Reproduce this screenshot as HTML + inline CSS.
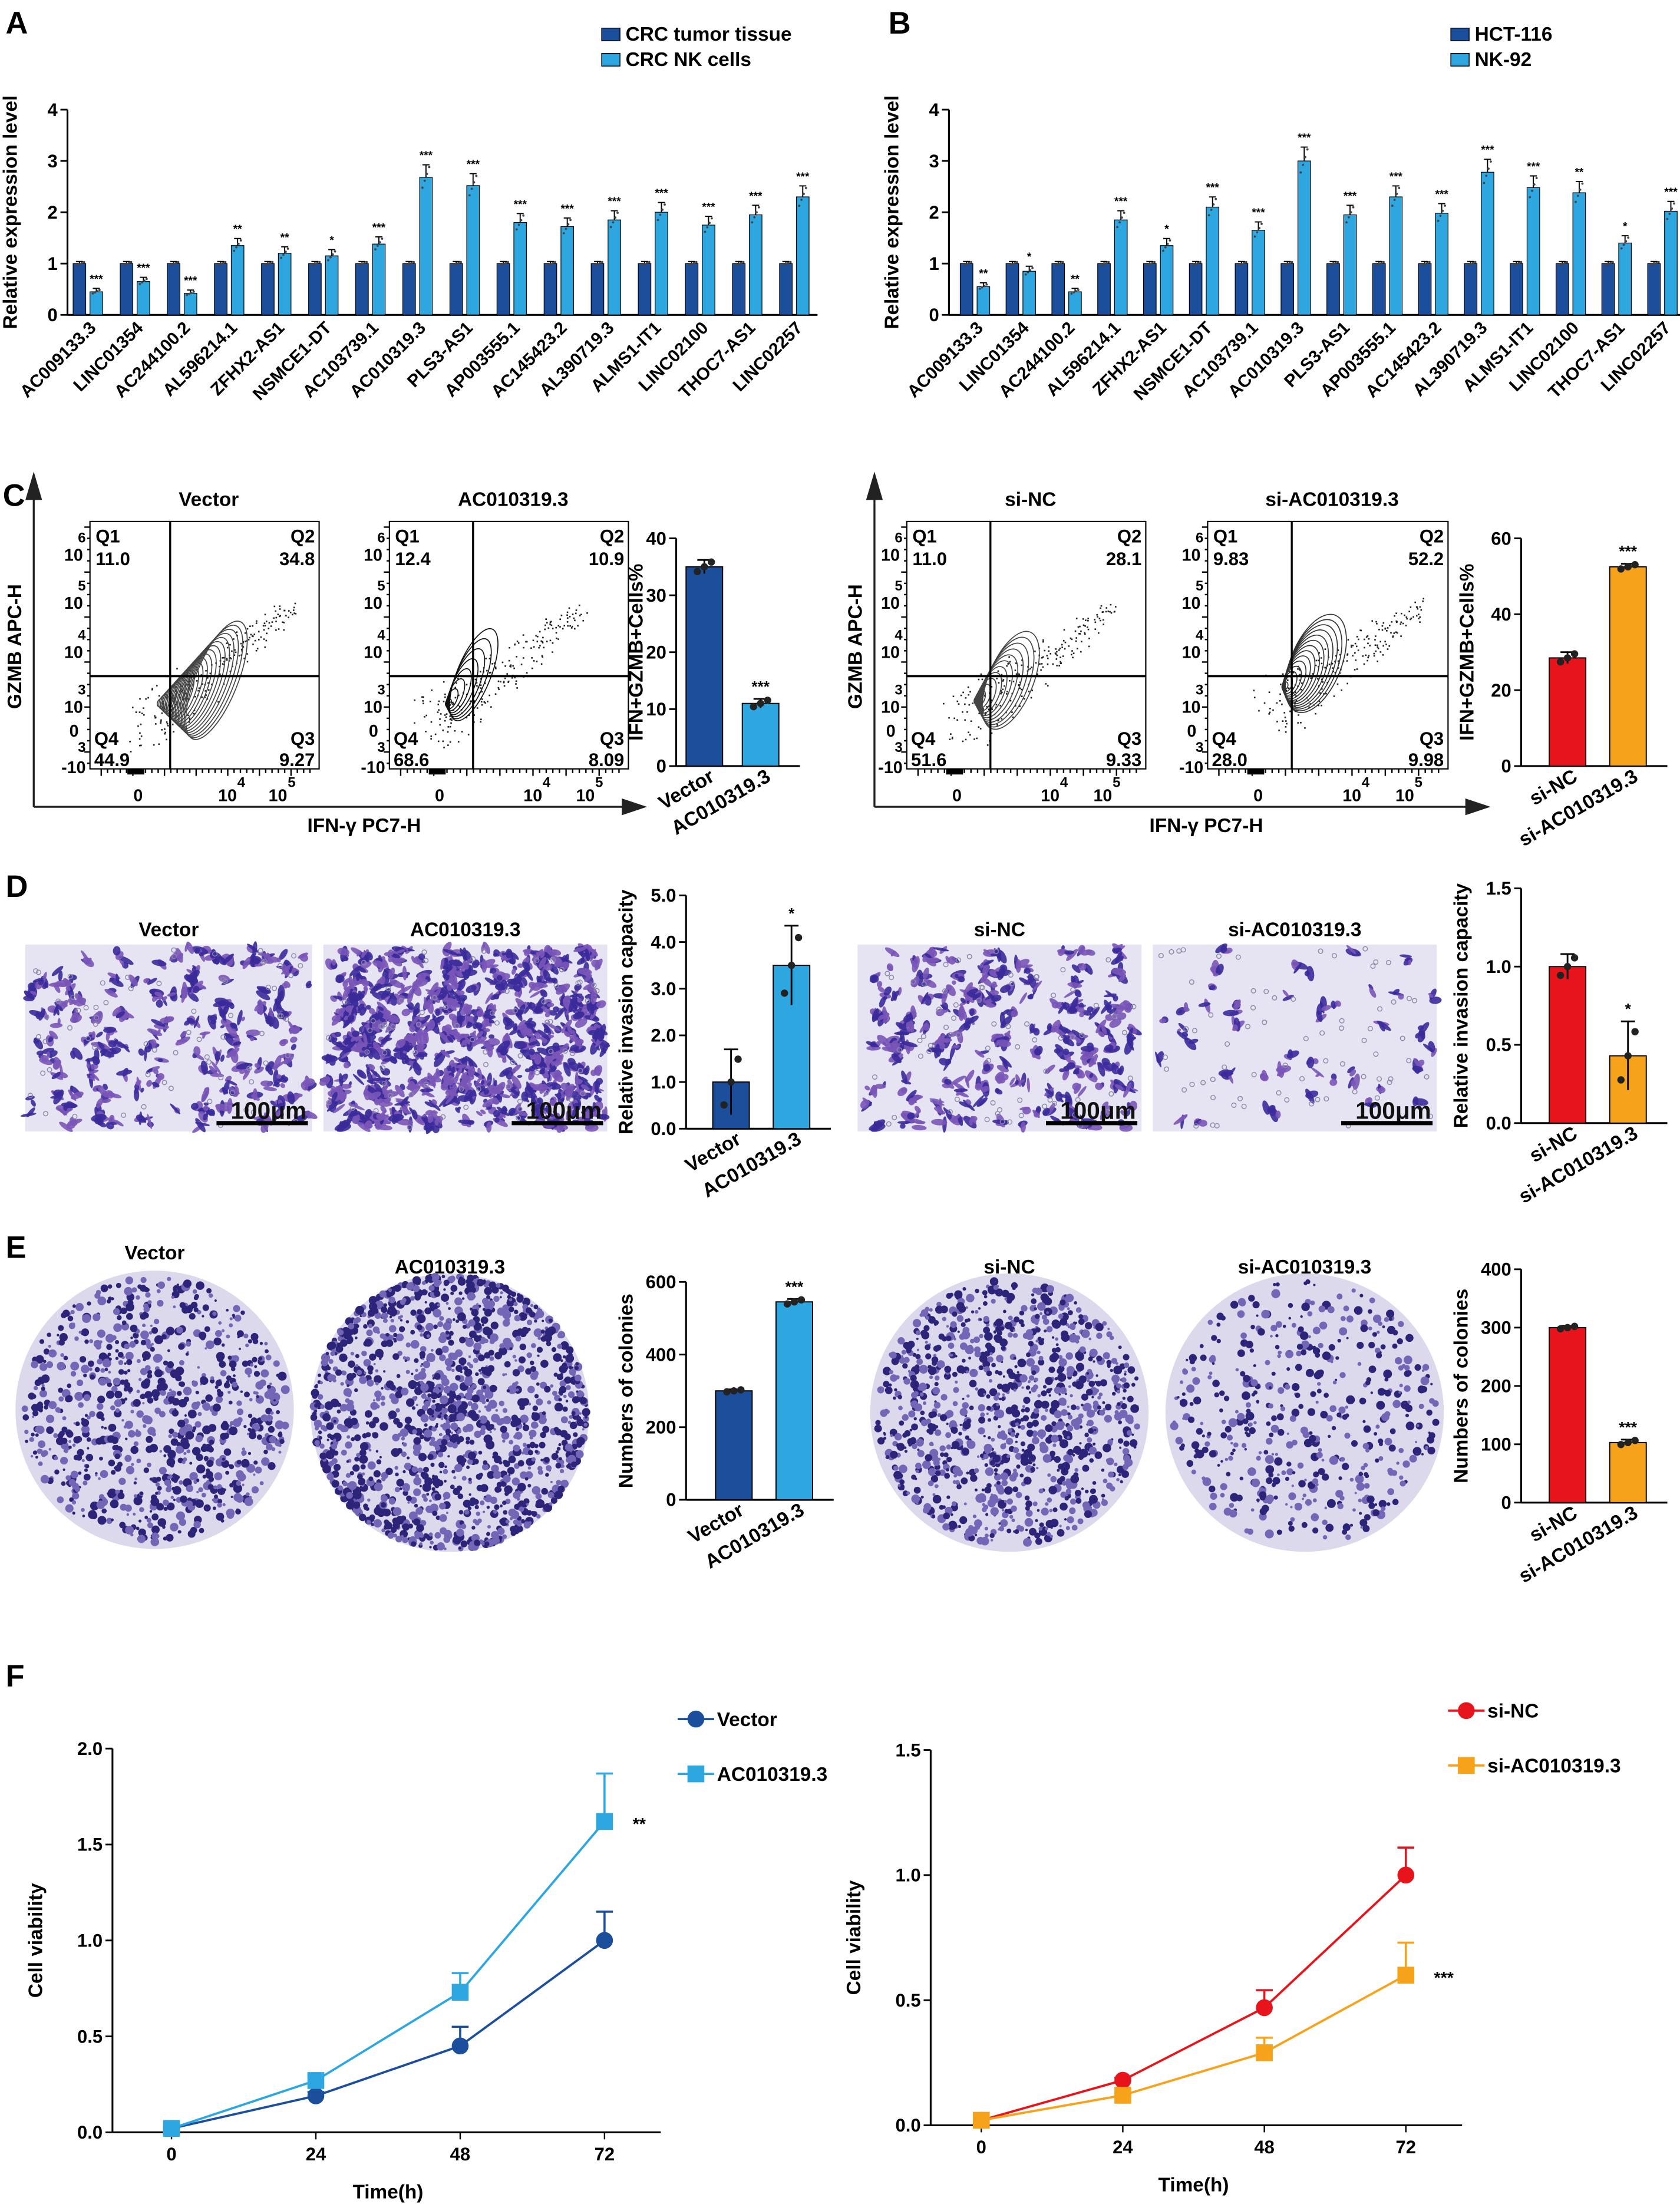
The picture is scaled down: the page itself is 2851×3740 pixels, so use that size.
<!DOCTYPE html>
<html><head><meta charset="utf-8"><style>
html,body{margin:0;padding:0;background:#fff}
svg{display:block;font-family:"Liberation Sans",Arial,sans-serif}
</style></head><body>
<svg id="fig" xmlns="http://www.w3.org/2000/svg" width="2851" height="3740" viewBox="0 0 1195 1568" preserveAspectRatio="none">
<rect x="0" y="0" width="1195" height="1568" fill="#fff"/>
<g font-weight="bold" font-size="22" fill="#000">
<text x="4" y="24">A</text>
<text x="632" y="24">B</text>
<text x="2" y="360">C</text>
<text x="4" y="638">D</text>
<text x="4" y="895">E</text>
<text x="4" y="1200">F</text>
</g>
</svg>
<script>
const NS='http://www.w3.org/2000/svg';
const svg=document.getElementById('fig');
const DARK='#1b4f9c', LIGHT='#2ea7e0', RED='#e8141b', ORANGE='#f7a21b';

// ===== Data =====
const genes=['AC009133.3','LINC01354','AC244100.2','AL596214.1','ZFHX2-AS1','NSMCE1-DT','AC103739.1','AC010319.3','PLS3-AS1','AP003555.1','AC145423.2','AL390719.3','ALMS1-IT1','LINC02100','THOC7-AS1','LINC02257'];
const aDark=[1,1,1,1,1,1,1,1,1,1,1,1,1,1,1,1];
const aLight=[0.45,0.65,0.42,1.35,1.2,1.15,1.38,2.68,2.52,1.8,1.72,1.85,2.0,1.75,1.95,2.3];
const aStars=['***','***','***','**','**','*','***','***','***','***','***','***','***','***','***','***'];
const bDark=[1,1,1,1,1,1,1,1,1,1,1,1,1,1,1,1];
const bLight=[0.55,0.85,0.45,1.85,1.35,2.1,1.65,3.0,1.95,2.3,1.98,2.78,2.48,2.38,1.4,2.02];
const bStars=['**','*','**','***','*','***','***','***','***','***','***','***','***','**','*','***'];
const exprTicks=[0,1,2,3,4];

const cCats1=['Vector','AC010319.3'], cVals1=[35,11], cErr1=[1.2,0.8], cTicks1=[0,10,20,30,40];
const cCats2=['si-NC','si-AC010319.3'], cVals2=[28.5,52.5], cErr2=[1.5,0.8], cTicks2=[0,20,40,60];
const flowQuads1=[['11.0','34.8','44.9','9.27'],['12.4','10.9','68.6','8.09']];
const flowQuads2=[['11.0','28.1','51.6','9.33'],['9.83','52.2','28.0','9.98']];

const dVals1=[1.0,3.5], dErr1=[0.7,0.85], dTicks1=[0,1,2,3,4,5];
const dVals2=[1.0,0.43], dErr2=[0.08,0.22], dTicks2=[0,0.5,1.0,1.5];
const eVals1=[300,545], eErr1=[4,8], eTicks1=[0,200,400,600];
const eVals2=[300,103], eErr2=[3,5], eTicks2=[0,100,200,300,400];

const times=[0,24,48,72];
const fVector=[0.02,0.19,0.45,1.0], fVectorErr=[0,0.02,0.1,0.15];
const fAC=[0.02,0.27,0.73,1.62], fACErr=[0.01,0.03,0.1,0.25];
const fSiNC=[0.02,0.18,0.47,1.0], fSiNCErr=[0,0.01,0.07,0.11];
const fSiAC=[0.02,0.12,0.29,0.6], fSiACErr=[0,0.01,0.06,0.13];
const fTicks1=[0,0.5,1.0,1.5,2.0], fTicks2=[0,0.5,1.0,1.5];

// ===== helpers =====
function mk(tag,attrs,parent){const e=document.createElementNS(NS,tag);for(const k in attrs)e.setAttribute(k,attrs[k]);(parent||svg).appendChild(e);return e;}
function txt(s,attrs,parent){const e=mk('text',attrs,parent);e.textContent=s;return e;}
let seed=12345;function rnd(){seed=(seed*1103515245+12345)%2147483648;return seed/2147483648;}
function fmt(v,dec){return dec?v.toFixed(dec):String(v);}

function yAxis(g,ax,y0,yTop,ticks,max,dec,title,titleX){
  const ys=v=>y0-(v/max)*(y0-yTop);
  const l=mk('line',{x1:ax,y1:y0,x2:ax,y2:yTop,stroke:'#000','stroke-width':1.3},g);
  
  
  ticks.forEach(t=>{mk('line',{x1:ax-5,y1:ys(t),x2:ax,y2:ys(t),stroke:'#000','stroke-width':1.2},g);
    const tl=txt(fmt(t,dec),{x:ax-7,y:ys(t)+4.5,'text-anchor':'end','font-size':13,'font-weight':'bold'},g);
    
    });
  if(title){const tt=txt(title,{x:titleX,y:(y0+yTop)/2,'text-anchor':'middle','font-size':14,'font-weight':'bold',transform:`rotate(-90 ${titleX} ${(y0+yTop)/2})`},g);
    
    }
  return ys;
}

function grouped(ax,y0,yTop,start,step,dark,light,stars,cats){
  const g=mk('g',{});
  
  
  const ys=yAxis(g,ax,y0,yTop,exprTicks,4,0,'Relative expression level',ax-36);
  mk('line',{x1:ax,y1:y0,x2:start+step*(cats.length-1)+16,y2:y0,stroke:'#000','stroke-width':1.3},g);
  cats.forEach((c,i)=>{
    const cx=start+i*step;
    const b1=mk('rect',{x:cx-11,y:ys(dark[i]),width:9,height:y0-ys(dark[i]),fill:DARK,stroke:'#000','stroke-width':0.5},g);
    
    
    const b2=mk('rect',{x:cx+1,y:ys(light[i]),width:9,height:y0-ys(light[i]),fill:LIGHT,stroke:'#000','stroke-width':0.5},g);
    
    
    const e1=ys(dark[i]+0.04),e2=ys(light[i]+light[i]*0.08+0.03);
    mk('path',{d:`M${cx-6.5} ${ys(dark[i])}V${e1}M${cx-9} ${e1}H${cx-4}M${cx+5.5} ${ys(light[i])}V${e2}M${cx+3} ${e2}H${cx+8}`,stroke:'#000','stroke-width':0.8,fill:'none'},g);
    for(let k=0;k<4;k++){mk('circle',{cx:cx-8+k*1.6,cy:ys(dark[i]+(k-1.5)*0.02),r:0.8,fill:'#444'},g);mk('circle',{cx:cx+3+k*1.6,cy:ys(light[i]*(1+(k-1.5)*0.05)),r:0.8,fill:'#444'},g);}
    const st=txt(stars[i],{x:cx+5.5,y:e2-4,'text-anchor':'middle','font-size':8,'font-weight':'bold'},g);
    
    
    const lb=txt(c,{x:cx+6,y:y0+10,'text-anchor':'end','font-size':12.5,'font-weight':'bold',transform:`rotate(-45 ${cx+6} ${y0+10})`},g);
    
    
  });
}
function legend(x,y,labels,colors){
  labels.forEach((l,i)=>{
    const r=mk('rect',{x:x,y:y+i*18-9,width:13,height:9,fill:colors[i],stroke:'#000','stroke-width':0.6});
    
    
    const t=txt(l,{x:x+17,y:y+i*18,'font-size':14,'font-weight':'bold'});
    
    
  });
}
grouped(48,224,78,63,33.5,aDark,aLight,aStars,genes);
legend(428,29,['CRC tumor tissue','CRC NK cells'],[DARK,LIGHT]);
grouped(675,224,78,694,32.6,bDark,bLight,bStars,genes);
legend(1032,29,['HCT-116','NK-92'],[DARK,LIGHT]);

function smallBar(ax,y0,yTop,ticks,max,dec,cats,vals,errs,cols,star,title,x0,gap,labRot,tOff){
  const g=mk('g',{});
  
  
  const ys=yAxis(g,ax,y0,yTop,ticks,max,dec,title,ax-(tOff||38));
  mk('line',{x1:ax,y1:y0,x2:x0+gap+28,y2:y0,stroke:'#000','stroke-width':1.3},g);
  cats.forEach((c,i)=>{
    const cx=x0+i*gap;
    const b=mk('rect',{x:cx-13,y:ys(vals[i]),width:26,height:y0-ys(vals[i]),fill:cols[i],stroke:'#000','stroke-width':0.8},g);
    
    
    const t=ys(vals[i]+errs[i]),bt=ys(Math.max(0,vals[i]-errs[i]));
    mk('path',{d:`M${cx} ${bt}V${t}M${cx-5} ${t}H${cx+5}`,stroke:'#000','stroke-width':1.2,fill:'none'},g);
    [-0.7,0,0.7].forEach((d,k)=>mk('circle',{cx:cx+(k-1)*5,cy:ys(vals[i]+d*errs[i]),r:2.6,fill:'#222'},g));
    if(i===1){const s=txt(star,{x:cx,y:t-5,'text-anchor':'middle','font-size':11,'font-weight':'bold'},g);
      
      }
    const lx=cx+8,ly=y0+10;
    const lb=txt(c,{x:lx,y:ly,'text-anchor':'end','font-size':14,'font-weight':'bold',transform:`rotate(${labRot} ${lx} ${ly})`},g);
    
    
  });
}
smallBar(481,545,383,cTicks1,40,0,cCats1,cVals1,cErr1,[DARK,LIGHT],'***','IFN+GZMB+Cells%',501,40,-30,24);
smallBar(1082,545,383,cTicks2,60,0,cCats2,cVals2,cErr2,[RED,ORANGE],'***','IFN+GZMB+Cells%',1115,43,-30,34);
smallBar(488,803,637,dTicks1,5,1,cCats1,dVals1,dErr1,[DARK,LIGHT],'*','Relative invasion capacity',520,43,-30);
smallBar(1082,799,632,dTicks2,1.5,1,cCats2,dVals2,dErr2,[RED,ORANGE],'*','Relative invasion capacity',1115,43,-30);
smallBar(488,1067,912,eTicks1,600,0,cCats1,eVals1,eErr1,[DARK,LIGHT],'***','Numbers of colonies',522,43,-30);
smallBar(1082,1069,903,eTicks2,400,0,cCats2,eVals2,eErr2,[RED,ORANGE],'***','Numbers of colonies',1115,43,-30);

// flow cytometry
function flowPanel(axX,arrowEnd,boxes,titles,quads,cont){
  const g=mk('g',{});
  
  
  const L=axX;
  mk('path',{d:`M${L} 574V350M${L} 338L${L-5} 355L${L+5} 355Z M${L} 574H${arrowEnd-10}M${arrowEnd} 574L${arrowEnd-15} 569L${arrowEnd-15} 579Z`,stroke:'#222','stroke-width':1.4,fill:'#222'},g);
  const ya=txt('GZMB APC-H',{x:L-9,y:460,'text-anchor':'middle','font-size':14,'font-weight':'bold',transform:`rotate(-90 ${L-9} 460)`},g);
  
  
  const xa=txt('IFN-γ PC7-H',{x:(L+arrowEnd)/2+18,y:592,'text-anchor':'middle','font-size':14,'font-weight':'bold'},g);
  
  
  boxes.forEach((bx,p)=>{
    const px=bx[0], pr=bx[1], pw=pr-px, top=371, bot=547;
    const pt=txt(titles[p],{x:(px+pr)/2+3,y:360,'text-anchor':'middle','font-size':14,'font-weight':'bold'},g);
    
    
    mk('rect',{x:px,y:top,width:pw,height:bot-top,fill:'none',stroke:'#000','stroke-width':0.9},g);
    const vx=px+pw*0.35, hy=481;
    const c=cont[p];
    const cx0=px+c[0], cy0=c[1];
    for(let k=0;k<220;k++){const t=Math.pow(rnd(),1.4);const sx=cx0-8+t*(pw*0.62)+(rnd()-0.5)*(34-t*24);const sy=cy0+15-t*(cy0-top-45)+(rnd()-0.5)*(40-t*28);
      if(sx>px&&sx<pr&&sy>top&&sy<bot)mk('rect',{x:sx,y:sy,width:1.1,height:1.1,fill:'#222'},g);}
    for(let k=0;k<c[4];k++){const f=k/(c[4]-1);const ex=cx0+f*c[5], ey=cy0-f*c[6];mk('ellipse',{cx:ex,cy:ey,rx:2+f*c[2],ry:3+f*c[3],fill:'none',stroke:c[7],'stroke-width':0.7,transform:`rotate(22 ${ex} ${ey})`},g);}
    mk('line',{x1:vx,y1:top,x2:vx,y2:bot,stroke:'#000','stroke-width':1.4},g);
    mk('line',{x1:px,y1:hy,x2:pr,y2:hy,stroke:'#000','stroke-width':1.6},g);
    const q=quads[p];
    [['Q1',px+4,386,'start'],['Q2',pr-3,386,'end'],['Q4',px+3,530,'start'],['Q3',pr-3,530,'end']].forEach(a=>txt(a[0],{x:a[1],y:a[2],'text-anchor':a[3],'font-size':13,'font-weight':'bold'},g));
    [[q[0],px+4,402,'start'],[q[1],pr-3,402,'end'],[q[2],px+3,545,'start'],[q[3],pr-3,545,'end']].forEach(a=>{const t=txt(a[0],{x:a[1],y:a[2],'text-anchor':a[3],'font-size':13,'font-weight':'bold'},g);
      
      });
    [['6',393],['5',427],['4',462],['3',501]].forEach(a=>{txt('10',{x:px-5,y:a[1]+6,'text-anchor':'end','font-size':12,'font-weight':'bold'},g);
      txt(a[0],{x:px-3,y:a[1]-7,'text-anchor':'end','font-size':10,'font-weight':'bold'},g);});
    for(let k=0;k<22;k++){const ty=top+4+k*8;mk('line',{x1:px-(k%4===0?4:2),y1:ty,x2:px,y2:ty,stroke:'#000','stroke-width':1},g);}
    txt('0',{x:px-8,y:524,'text-anchor':'end','font-size':12,'font-weight':'bold'},g);
    txt('-10',{x:px-3,y:550,'text-anchor':'end','font-size':12,'font-weight':'bold'},g);
    txt('3',{x:px-3,y:535,'text-anchor':'end','font-size':10,'font-weight':'bold'},g);
    txt('0',{x:px+pw*0.21,y:570,'text-anchor':'middle','font-size':12,'font-weight':'bold'},g);
    txt('10',{x:px+pw*0.6,y:570,'text-anchor':'middle','font-size':12,'font-weight':'bold'},g);
    txt('4',{x:px+pw*0.6+7,y:560,'font-size':10,'font-weight':'bold'},g);
    txt('10',{x:px+pw*0.82,y:570,'text-anchor':'middle','font-size':12,'font-weight':'bold'},g);
    txt('5',{x:px+pw*0.82+7,y:560,'font-size':10,'font-weight':'bold'},g);
    for(let k=0;k<34;k++){const tx=px+8+k*(pw-10)/34;mk('line',{x1:tx,y1:bot,x2:tx,y2:bot+(k%5===0?5:3),stroke:'#000','stroke-width':1},g);}
    mk('rect',{x:px+pw*0.2-6,y:bot,width:12,height:4,fill:'#000'},g);
  });
}
flowPanel(24,458,[[64,227],[277,447]],['Vector','AC010319.3'],flowQuads1,[[50,500,13,42,20,40,16,'#444'],[42,500,10,32,8,18,20,'#111']]);
flowPanel(622,1058,[[645,815],[859,1030]],['si-NC','si-AC010319.3'],flowQuads2,[[50,498,14,34,12,24,14,'#444'],[55,488,16,34,14,22,16,'#333']]);

// invasion images
function invImg(x,y,w,h,title,dense){
  const g=mk('g',{});
  
  
  const t=txt(title,{x:x+w/2,y:y-6,'text-anchor':'middle','font-size':14,'font-weight':'bold'},g);
  
  
  mk('rect',{x:x,y:y,width:w,height:h,fill:'#e6e4f2'},g);
  for(let k=0;k<dense;k++){const cx=x+3+rnd()*(w-6),cy=y+3+rnd()*(h-6);
    const n=2+Math.floor(rnd()*3);
    for(let j=0;j<n;j++){const a=rnd()*180;mk('ellipse',{cx:cx+(rnd()-0.5)*5,cy:cy+(rnd()-0.5)*5,rx:1.5+rnd()*4.5,ry:1+rnd()*1.8,fill:rnd()>0.5?'#3a2a9a':'#7a55b8',opacity:0.9,transform:`rotate(${a} ${cx} ${cy})`},g);}}
  for(let k=0;k<70;k++)mk('circle',{cx:x+3+rnd()*(w-6),cy:y+3+rnd()*(h-6),r:1.6,fill:'none',stroke:'#8c88aa','stroke-width':0.6},g);
  const sb=mk('text',{x:x+w-4,y:y+h-9,'text-anchor':'end','font-size':17,'font-weight':'bold',fill:'#111'},g);
  sb.textContent='100μm';
  mk('line',{x1:x+w-68,y1:y+h-6,x2:x+w-3,y2:y+h-6,stroke:'#000','stroke-width':3},g);
}
invImg(18,672,204,133,'Vector',190);
invImg(230,672,202,133,'AC010319.3',520);
invImg(610,672,202,133,'si-NC',210);
invImg(820,672,202,133,'si-AC010319.3',45);

// colony dishes
function dish(cx,cy,r,title,dense,ty,ring){
  const g=mk('g',{});
  
  
  const t=txt(title,{x:cx,y:ty,'text-anchor':'middle','font-size':14,'font-weight':'bold'},g);
  
  
  mk('circle',{cx:cx,cy:cy,r:r,fill:'#dcd9ec'},g);
  for(let k=0;k<dense;k++){const a=rnd()*6.283,d=ring?r*(1-Math.pow(rnd(),2)*0.97):Math.sqrt(rnd())*r*0.97;mk('circle',{cx:cx+Math.cos(a)*d*0.98,cy:cy+Math.sin(a)*d*0.98,r:0.8+rnd()*2.4,fill:rnd()>0.45?'#2c2478':'#7466b6'},g);}
}
dish(110,1003,99,'Vector',900,896,false);
dish(320,1005,99,'AC010319.3',1500,906,true);
dish(718,1005,99,'si-NC',1100,906,false);
dish(928,1005,99,'si-AC010319.3',500,906,false);

// line charts
function lineChart(ax,y0,yTop,max,ticks,xStart,xEnd,series,title){
  const g=mk('g',{});
  
  
  const ys=yAxis(g,ax,y0,yTop,ticks,max,1,'Cell viability',ax-50);
  const xs=t=>xStart+(t/72)*(xEnd-xStart);
  mk('line',{x1:ax,y1:y0,x2:xEnd+40,y2:y0,stroke:'#000','stroke-width':1.3},g);
  times.forEach(t=>{mk('line',{x1:xs(t),y1:y0,x2:xs(t),y2:y0+5,stroke:'#000'},g);
    const l=txt(String(t),{x:xs(t),y:y0+20,'text-anchor':'middle','font-size':13,'font-weight':'bold'},g);
    
    });
  const xt=txt('Time(h)',{x:(xStart+xEnd)/2,y:y0+47,'text-anchor':'middle','font-size':14,'font-weight':'bold'},g);
  
  
  series.forEach(s=>{
    const pl=mk('polyline',{points:times.map((t,i)=>xs(t)+','+ys(s.v[i])).join(' '),fill:'none',stroke:s.c,'stroke-width':1.6},g);
    
    
    times.forEach((t,i)=>{
      if(s.e[i]>0.005){const et=ys(s.v[i]+s.e[i]);mk('path',{d:`M${xs(t)} ${ys(s.v[i])}V${et}M${xs(t)-6} ${et}H${xs(t)+6}`,stroke:s.c,'stroke-width':1.5,fill:'none'},g);}
      const m=s.sq?mk('rect',{x:xs(t)-6,y:ys(s.v[i])-6,width:12,height:12,fill:s.c},g):mk('circle',{cx:xs(t),cy:ys(s.v[i]),r:6,fill:s.c},g);
      
      
    });
    const lx=s.lx,ly=s.ly;
    mk('line',{x1:lx,y1:ly,x2:lx+26,y2:ly,stroke:s.c,'stroke-width':1.6},g);
    if(s.sq)mk('rect',{x:lx+7,y:ly-6,width:12,height:12,fill:s.c},g);else mk('circle',{cx:lx+13,cy:ly,r:6,fill:s.c},g);
    const lt=txt(s.n,{x:lx+28,y:ly+5,'font-size':14,'font-weight':'bold'},g);
    
    
    if(s.star){const st=txt(s.star,{x:xs(72)+20,y:ys(s.v[3])+6,'font-size':12,'font-weight':'bold'},g);
      
      }
  });
}
lineChart(80,1517,1244,2.0,fTicks1,122,430,[
 {n:'Vector',v:fVector,e:fVectorErr,c:DARK,sq:false,lx:482,ly:1223},
 {n:'AC010319.3',v:fAC,e:fACErr,c:LIGHT,sq:true,lx:482,ly:1262,star:'**'}]);
lineChart(662,1512,1245,1.5,fTicks2,698,1000,[
 {n:'si-NC',v:fSiNC,e:fSiNCErr,c:RED,sq:false,lx:1030,ly:1217},
 {n:'si-AC010319.3',v:fSiAC,e:fSiACErr,c:ORANGE,sq:true,lx:1030,ly:1256,star:'***'}]);
</script>
</body></html>
